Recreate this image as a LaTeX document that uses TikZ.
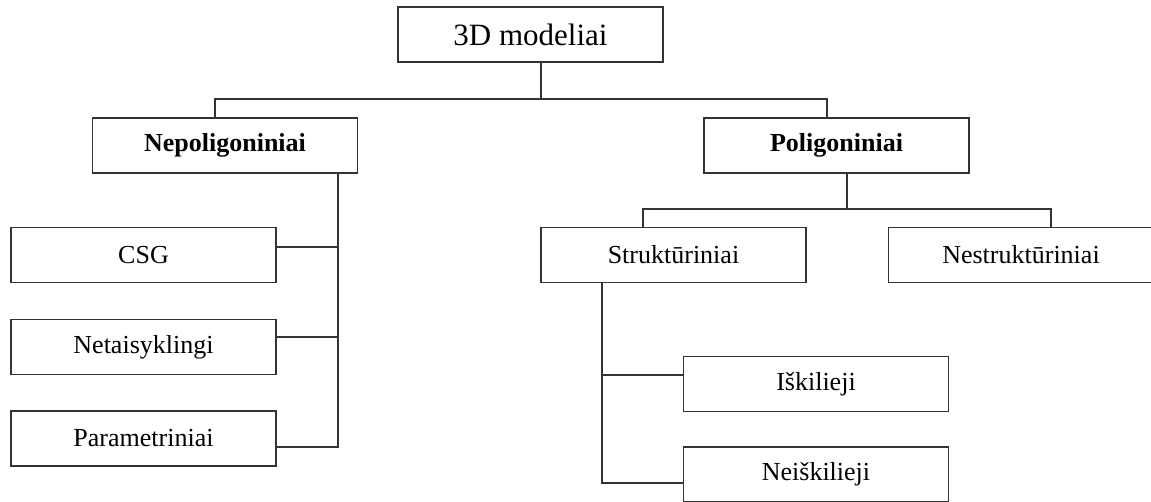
\documentclass[tikz,border=0pt]{standalone}
\usepackage{fontspec}
\setmainfont{Liberation Serif}
\begin{document}
\begin{tikzpicture}[x=1pt,y=-1pt,
  box/.style={draw=black!80, line width=1.5pt, rectangle, minimum width=265pt, minimum height=55pt, inner sep=0pt, font=\fontsize{26}{30}\selectfont, text=black},
  boldbox/.style={box, font=\fontsize{26}{30}\selectfont\bfseries},
  conn/.style={draw=black!80, line width=1.5pt}]
\useasboundingbox (0,0) rectangle (1151,502);
\node[box, font=\fontsize{31}{36}\selectfont] (top) at (530.5,34.5) {3D modeliai};
\node[boldbox] (nep) at (225,145.5) {Nepoligoniniai};
\node[boldbox] (pol) at (836.5,145.5) {Poligoniniai};
\node[box] (csg) at (143.5,255) {CSG};
\node[box] (net) at (143.5,347) {Netaisyklingi};
\node[box] (par) at (143.5,438.5) {Parametriniai};
\node[box] (str) at (673.5,255) {Struktūriniai};
\node[box] (nes) at (1021,255) {Nestruktūriniai};
\node[box] (isk) at (816,384) {Iškilieji};
\node[box] (neisk) at (816,474.5) {Neiškilieji};
% top level
\coordinate (j1) at (541,99);
\coordinate (h1L) at (215,99);
\coordinate (h1R) at (827,99);
\draw[conn] (top.south -| j1) -- (j1);
\draw[conn] (h1L |- nep.north) -- (h1L) -- (h1R) -- (h1R |- pol.north);
% left branch
\coordinate (v1) at (338,447);
\coordinate (c1) at (338,247);
\coordinate (c2) at (338,337);
\draw[conn] (v1 |- nep.south) -- (v1) -- (v1 -| par.east);
\draw[conn] (c1) -- (c1 -| csg.east);
\draw[conn] (c2) -- (c2 -| net.east);
% right branch
\coordinate (j2) at (847,209);
\coordinate (h2L) at (643,209);
\coordinate (h2R) at (1051,209);
\draw[conn] (pol.south -| j2) -- (j2);
\draw[conn] (h2L |- str.north) -- (h2L) -- (h2R) -- (h2R |- nes.north);
\coordinate (v2) at (602,483);
\coordinate (c3) at (602,375);
\draw[conn] (v2 |- str.south) -- (v2) -- (v2 -| neisk.west);
\draw[conn] (c3) -- (c3 -| isk.west);
\end{tikzpicture}
\end{document}
